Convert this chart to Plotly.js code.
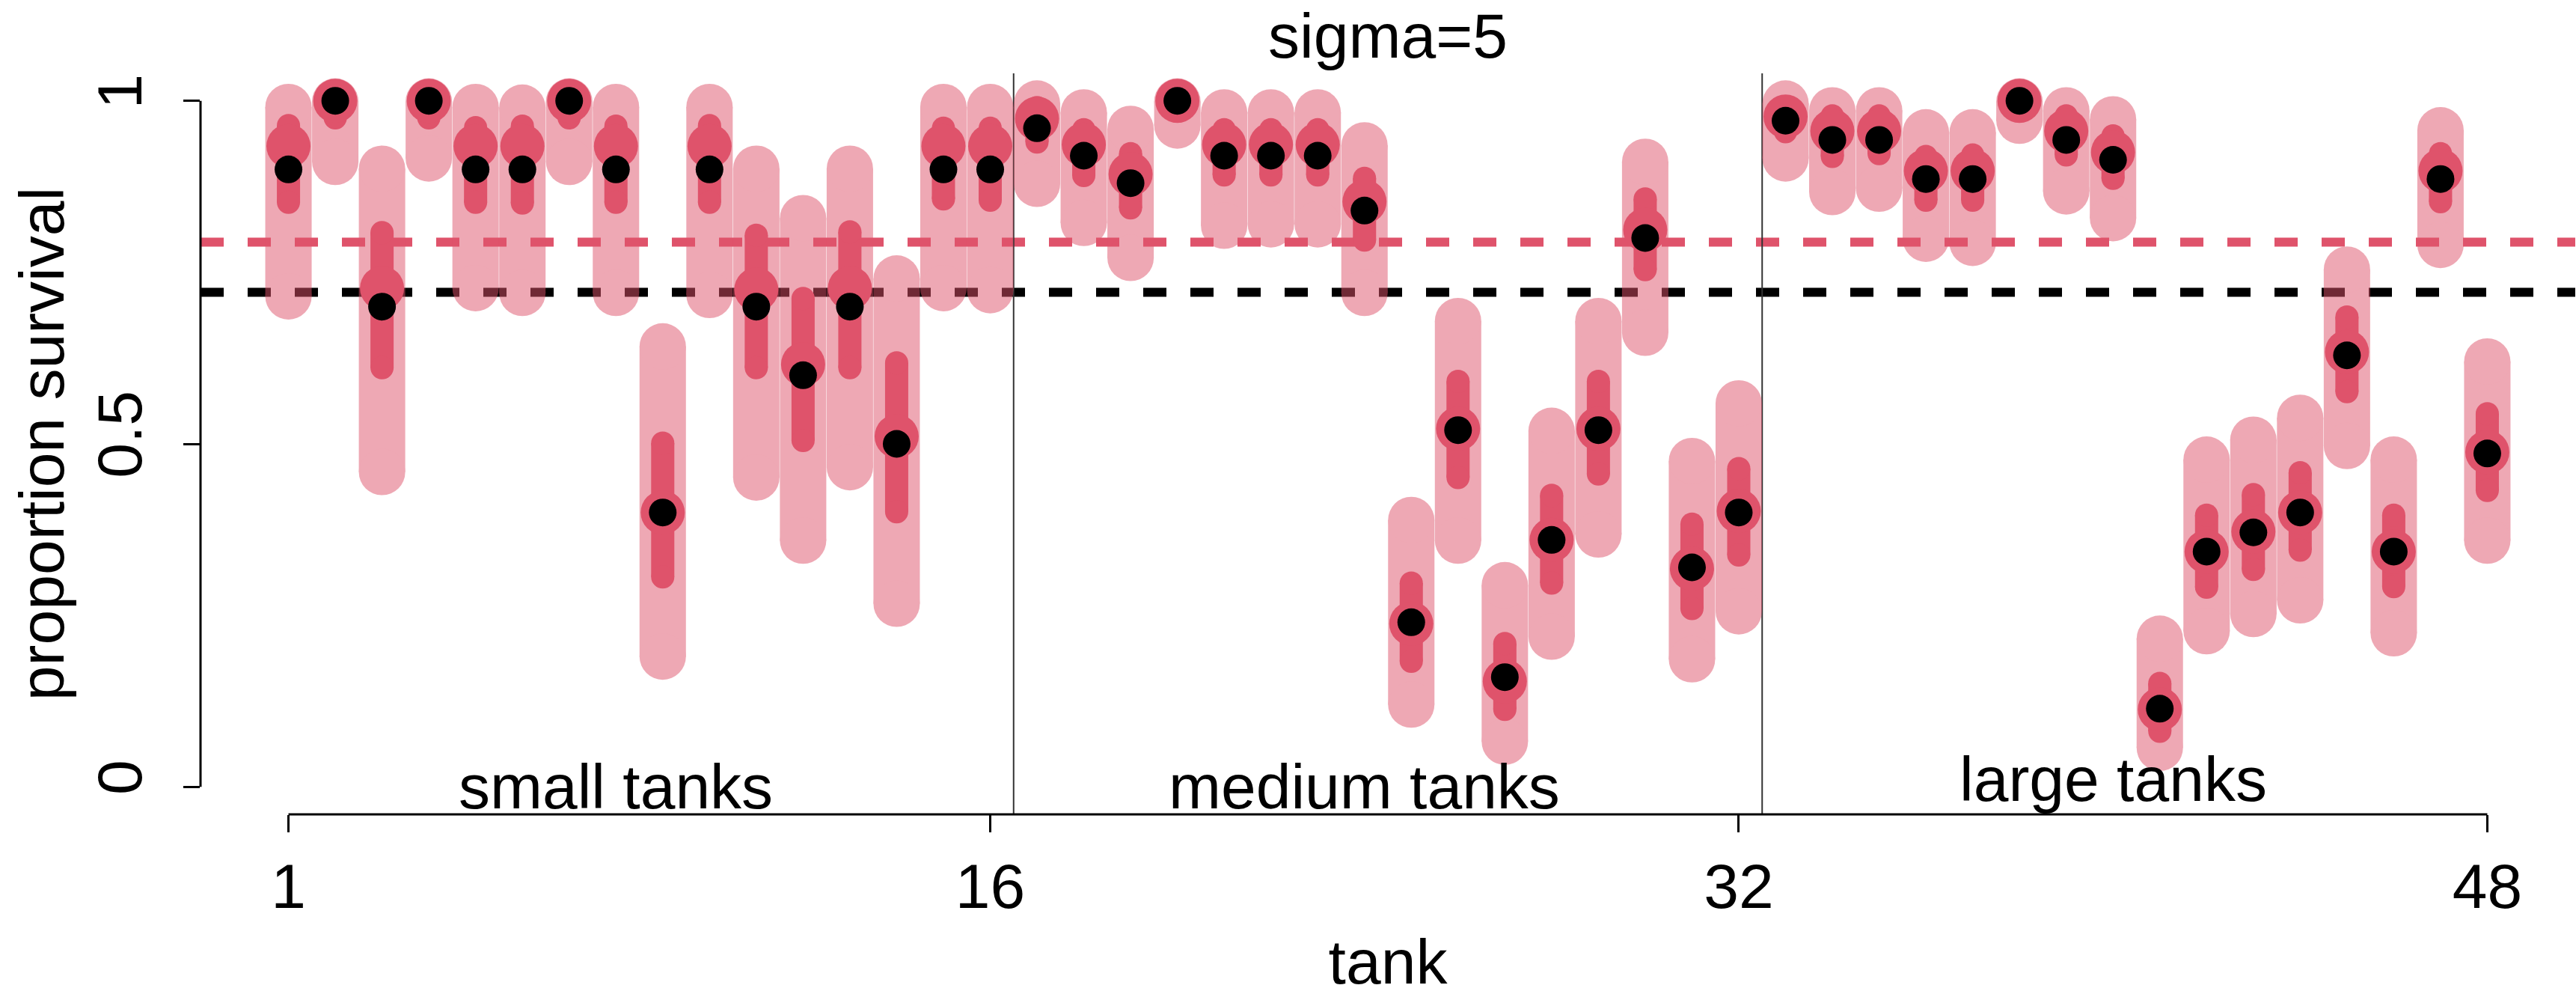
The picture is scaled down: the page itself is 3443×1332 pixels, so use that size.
<!DOCTYPE html>
<html>
<head>
<meta charset="utf-8">
<script src="https://cdn.plot.ly/plotly-3.0.1.min.js"></script>
<style>
  html, body { margin: 0; padding: 0; background: #ffffff; }
  #chart { width: 3443px; height: 1332px; }
</style>
</head>
<body>
<div id="chart"></div>
<script>
// Reed frog tanks: observed survival proportions and posterior summaries
const tank = [1,2,3,4,5,6,7,8,9,10,11,12,13,14,15,16,
              17,18,19,20,21,22,23,24,25,26,27,28,29,30,31,32,
              33,34,35,36,37,38,39,40,41,42,43,44,45,46,47,48];

const obsProp = [0.9,1,0.7,1,0.9,0.9,1,0.9,0.4,0.9,0.7,0.6,0.7,0.5,0.9,0.9,
                 0.96,0.92,0.88,1,0.92,0.92,0.92,0.84,0.24,0.52,0.16,0.36,0.52,0.8,0.32,0.4,
                 0.971,0.943,0.943,0.886,0.886,1,0.943,0.914,0.114,0.343,0.371,0.4,0.629,0.343,0.886,0.486];

const postMean = [0.934,1.0,0.727,1.0,0.934,0.934,1.0,0.934,0.400,0.934,0.725,0.616,0.727,0.511,0.934,0.934,
                  0.974,0.936,0.893,1.0,0.936,0.936,0.936,0.853,0.238,0.522,0.154,0.360,0.522,0.812,0.318,0.402,
                  0.977,0.956,0.956,0.898,0.898,1.0,0.956,0.925,0.113,0.343,0.372,0.400,0.634,0.343,0.898,0.488];

// wide interval
const outerLo = [0.715,0.911,0.459,0.916,0.727,0.720,0.911,0.720,0.190,0.717,0.451,0.359,0.466,0.267,0.727,0.724,
                 0.879,0.822,0.771,0.964,0.818,0.820,0.820,0.720,0.120,0.359,0.066,0.219,0.368,0.662,0.186,0.256,
                 0.916,0.867,0.872,0.799,0.793,0.971,0.868,0.829,0.057,0.227,0.252,0.272,0.497,0.224,0.790,0.359];
const outerHi = [0.991,0.999,0.901,0.999,0.991,0.990,0.999,0.991,0.642,0.991,0.901,0.829,0.901,0.741,0.991,0.991,
                 0.996,0.983,0.959,0.999,0.983,0.983,0.983,0.935,0.389,0.679,0.294,0.519,0.679,0.911,0.475,0.559,
                 0.996,0.986,0.986,0.954,0.954,0.999,0.986,0.973,0.216,0.477,0.506,0.538,0.754,0.477,0.957,0.620];

// narrow interval
const innerLo = [0.852,0.975,0.611,0.975,0.852,0.851,0.975,0.852,0.306,0.852,0.611,0.505,0.611,0.401,0.857,0.855,
                 0.940,0.891,0.844,0.985,0.892,0.892,0.892,0.797,0.183,0.451,0.113,0.297,0.456,0.754,0.260,0.338,
                 0.955,0.919,0.923,0.855,0.855,0.988,0.921,0.887,0.081,0.291,0.317,0.345,0.576,0.292,0.853,0.432];
const innerHi = [0.964,0.998,0.808,0.998,0.961,0.963,0.998,0.963,0.501,0.964,0.804,0.712,0.809,0.618,0.960,0.960,
                 0.990,0.958,0.923,0.998,0.958,0.958,0.958,0.887,0.297,0.591,0.209,0.425,0.591,0.857,0.383,0.464,
                 0.990,0.978,0.978,0.919,0.921,0.999,0.978,0.949,0.151,0.396,0.426,0.458,0.685,0.396,0.923,0.544];

const obsMeanLine = 0.721;
const postMeanLine = 0.794;

const xTicks = [1, 16, 32, 48];
const yTicks = [0, 0.5, 1];
const yTickText = ['0', '0.5', '1'];
const groupBreaks = [16.5, 32.5];
const groupLabels = ['small tanks', 'medium tanks', 'large tanks'];
const groupLabelX = [8, 24, 40];

const RED = 'rgb(223,83,107)';
const FONT = 'Liberation Sans, Arial, Helvetica, sans-serif';
const FS = 84;

// vertical segments separated by gaps; end markers give the rounded caps
function segments(lo, hi) {
  const xs = [], ys = [];
  tank.forEach((t, i) => { xs.push(t, t, null); ys.push(lo[i], hi[i], null); });
  return { xs, ys };
}
const outer = segments(outerLo, outerHi);
const inner = segments(innerLo, innerHi);

const traces = [
  {
    x: outer.xs, y: outer.ys, type: 'scatter', mode: 'lines+markers',
    line: { color: RED, width: 62 }, marker: { color: RED, size: 62, line: { width: 0 } },
    opacity: 0.5, connectgaps: false, hoverinfo: 'skip', showlegend: false
  },
  {
    x: inner.xs, y: inner.ys, type: 'scatter', mode: 'lines+markers',
    line: { color: RED, width: 31 }, marker: { color: RED, size: 31, line: { width: 0 } },
    connectgaps: false, hoverinfo: 'skip', showlegend: false
  },
  {
    x: tank, y: postMean, type: 'scatter', mode: 'markers',
    marker: { color: RED, size: 59, line: { width: 0 } }, showlegend: false
  },
  {
    x: tank, y: obsProp, type: 'scatter', mode: 'markers',
    marker: { color: '#000000', size: 37, line: { width: 0 } }, showlegend: false
  }
];

const shapes = [
  { type: 'line', xref: 'paper', yref: 'y', x0: 0, x1: 1, y0: postMeanLine, y1: postMeanLine,
    line: { color: RED, width: 12, dash: '31px,32px' }, layer: 'below' },
  { type: 'line', xref: 'paper', yref: 'y', x0: 0, x1: 1, y0: obsMeanLine, y1: obsMeanLine,
    line: { color: '#000000', width: 12, dash: '31px,32px' }, layer: 'below' },
  // axis lines spanning first to last tick
  { type: 'line', xref: 'x', yref: 'paper', x0: xTicks[0], x1: xTicks[xTicks.length - 1], y0: 0, y1: 0,
    line: { color: '#000000', width: 3 } },
  { type: 'line', xref: 'paper', yref: 'y', x0: 0, x1: 0, y0: yTicks[0], y1: yTicks[yTicks.length - 1],
    line: { color: '#000000', width: 3 } }
];
groupBreaks.forEach(b => shapes.push({
  type: 'line', xref: 'x', yref: 'paper', x0: b, x1: b, y0: 0, y1: 1,
  line: { color: '#333333', width: 2 }, layer: 'below'
}));

const annotations = groupLabels.map((txt, i) => ({
  x: groupLabelX[i], y: 0, xref: 'x', yref: 'y', text: txt, showarrow: false,
  xanchor: 'center', yanchor: 'middle', yshift: i === 2 ? 10 : 0,
  font: { family: FONT, size: FS, color: '#000000' }
}));

const layout = {
  width: 3443, height: 1332,
  margin: { l: 268, r: 1, t: 98, b: 244, autoexpand: false },
  paper_bgcolor: '#ffffff', plot_bgcolor: '#ffffff',
  font: { family: FONT, size: FS, color: '#000000' },
  title: { text: 'sigma=5', x: 0.5, xref: 'paper', y: 1 - 48 / 1332, yref: 'container',
           xanchor: 'center', yanchor: 'middle', font: { family: FONT, size: FS, color: '#000000' } },
  xaxis: {
    range: [-0.88, 49.88], showgrid: false, zeroline: false, showline: false,
    tickmode: 'array', tickvals: xTicks, ticktext: xTicks.map(String),
    ticks: 'outside', ticklen: 23, tickwidth: 3, tickcolor: '#000000',
    tickfont: { family: FONT, size: FS, color: '#000000' },
    title: { text: 'tank', font: { family: FONT, size: FS, color: '#000000' }, standoff: 31 },
    automargin: false
  },
  yaxis: {
    range: [-0.04, 1.04], showgrid: false, zeroline: false, showline: false,
    tickmode: 'array', tickvals: yTicks, ticktext: yTickText, tickangle: -90,
    ticks: 'outside', ticklen: 22, tickwidth: 3, tickcolor: '#000000', ticklabelstandoff: 22,
    tickfont: { family: FONT, size: FS, color: '#000000' },
    title: { text: 'proportion survival', font: { family: FONT, size: FS, color: '#000000' }, standoff: 0 },
    automargin: false
  },
  shapes: shapes,
  annotations: annotations,
  hovermode: false
};

Plotly.newPlot('chart', traces, layout, { displayModeBar: false, staticPlot: true });
</script>
</body>
</html>
